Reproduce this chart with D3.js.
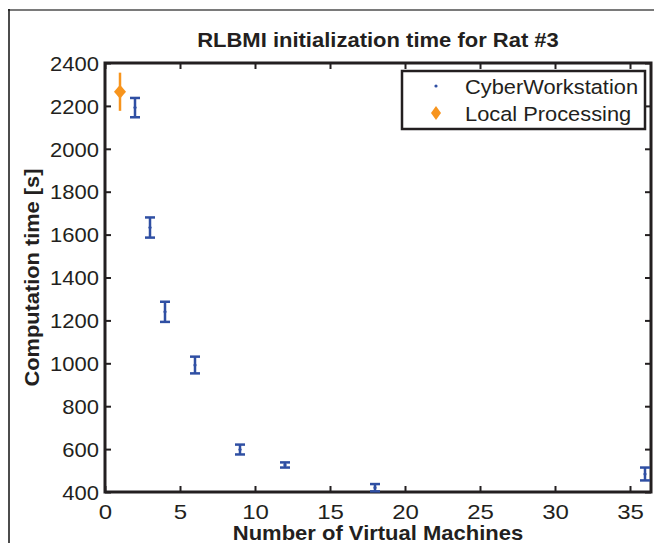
<!DOCTYPE html>
<html lang="en">
<head>
<meta charset="utf-8">
<style type="text/css">
    body { margin: 0; background: #fff; }
    text { font-family: "Liberation Sans", Arial, Helvetica, sans-serif; fill: #231f20; }
</style>
</head>
<body>
<svg width="654" height="543"></svg>
<script src="https://d3js.org/d3.v7.min.js"></script>
<script type="text/javascript">
    // data
    var vmCounts   = [2, 3, 4, 6, 9, 12, 18, 36];
    var cyberMean  = [2192, 1633, 1240, 992, 598, 526, 420, 484];
    var cyberErr   = [45, 47, 47, 39, 23, 12, 17, 30];
    var localX     = [1];
    var localMean  = [2266];
    var localErr   = [89];
    var xTicks = [0, 5, 10, 15, 20, 25, 30, 35];
    var yTicks = [400, 600, 800, 1000, 1200, 1400, 1600, 1800, 2000, 2200, 2400];
    var legendLabels = ["CyberWorkstation", "Local Processing"];

    var blue = "#2f4fa3", orange = "#f7941d", ink = "#231f20";
    var SX = 1.1; // text in the original is a little wide

    var svg = d3.select("svg");
    var pL = 105, pR = 651, pT = 63, pB = 492;

    var x = d3.scaleLinear().domain([0, 36.4]).range([pL, pR]);
    var y = d3.scaleLinear().domain([400, 2400]).range([pB, pT]);

    // outer figure frame
    svg.append("line").attr("x1", 8).attr("x2", 654).attr("y1", 10).attr("y2", 10)
        .attr("stroke", "#7a7a7a").attr("stroke-width", 2);
    svg.append("line").attr("x1", 9).attr("x2", 9).attr("y1", 9).attr("y2", 543)
        .attr("stroke", "#111").attr("stroke-width", 1.5);

    function styleAxis(g) {
        g.select(".domain").remove();
        g.selectAll(".tick line").attr("stroke", ink).attr("stroke-width", 2);
    }

    // bottom axis
    var gx = svg.append("g").attr("transform", "translate(0," + pB + ")")
        .call(d3.axisBottom(x).tickValues(xTicks).tickSizeInner(-6).tickSizeOuter(0).tickFormat(d3.format("d")));
    styleAxis(gx);
    gx.selectAll(".tick text").attr("y", 0).attr("dy", null)
        .attr("transform", "translate(0,27) scale(1.2,1)")
        .style("font-size", "20px").attr("fill", ink);

    // top axis (ticks only)
    var gt = svg.append("g").attr("transform", "translate(0," + pT + ")")
        .call(d3.axisTop(x).tickValues(xTicks).tickSizeInner(-6).tickSizeOuter(0).tickFormat(""));
    styleAxis(gt);

    // left axis
    var gy = svg.append("g").attr("transform", "translate(" + pL + ",0)")
        .call(d3.axisLeft(y).tickValues(yTicks).tickSizeInner(-6).tickSizeOuter(0).tickFormat(d3.format("d")));
    styleAxis(gy);
    gy.selectAll(".tick text").attr("x", 0).attr("dy", "0.36em")
        .attr("transform", "translate(-6,0) scale(1.1,1)")
        .style("font-size", "20px").attr("fill", ink);

    // right axis (ticks only)
    var gr = svg.append("g").attr("transform", "translate(" + pR + ",0)")
        .call(d3.axisRight(y).tickValues(yTicks).tickSizeInner(-6).tickSizeOuter(0).tickFormat(""));
    styleAxis(gr);

    // plot box
    svg.append("rect").attr("x", pL).attr("y", pT)
        .attr("width", pR - pL).attr("height", pB - pT)
        .attr("fill", "none").attr("stroke", ink).attr("stroke-width", 3);

    // cyberworkstation error bars
    var cyber = vmCounts.map(function (d, i) { return {x: d, m: cyberMean[i], e: cyberErr[i]}; });
    var cg = svg.append("g").selectAll("g").data(cyber).enter().append("g")
        .attr("stroke", blue).attr("stroke-width", 2.5);
    cg.append("line")
        .attr("x1", function (d) { return x(d.x); }).attr("x2", function (d) { return x(d.x); })
        .attr("y1", function (d) { return y(d.m + d.e); }).attr("y2", function (d) { return y(d.m - d.e); });
    cg.append("line")
        .attr("x1", function (d) { return x(d.x) - 5; }).attr("x2", function (d) { return x(d.x) + 5; })
        .attr("y1", function (d) { return y(d.m + d.e); }).attr("y2", function (d) { return y(d.m + d.e); });
    cg.append("line")
        .attr("x1", function (d) { return x(d.x) - 5; }).attr("x2", function (d) { return x(d.x) + 5; })
        .attr("y1", function (d) { return y(d.m - d.e); }).attr("y2", function (d) { return y(d.m - d.e); });
    cg.append("circle")
        .attr("cx", function (d) { return x(d.x); }).attr("cy", function (d) { return y(d.m); })
        .attr("r", 1.6).attr("fill", blue).attr("stroke", "none");

    // local processing
    var local = localX.map(function (d, i) { return {x: d, m: localMean[i], e: localErr[i]}; });
    var lg = svg.append("g").selectAll("g").data(local).enter().append("g");
    lg.append("line")
        .attr("x1", function (d) { return x(d.x); }).attr("x2", function (d) { return x(d.x); })
        .attr("y1", function (d) { return y(d.m + d.e); }).attr("y2", function (d) { return y(d.m - d.e); })
        .attr("stroke", orange).attr("stroke-width", 2.5);
    lg.append("path")
        .attr("d", function (d) {
            var cx = x(d.x), cy = y(d.m);
            return "M" + cx + "," + (cy - 7) + "L" + (cx + 6) + "," + cy + "L" + cx + "," + (cy + 7) + "L" + (cx - 6) + "," + cy + "Z";
        })
        .attr("fill", orange);

    // title and axis labels
    svg.append("text").attr("transform", "translate(" + ((pL + pR) / 2) + ",47) scale(" + SX + ",1)")
        .attr("text-anchor", "middle").style("font-size", "20px").style("font-weight", "bold")
        .text("RLBMI initialization time for Rat #3");
    svg.append("text").attr("transform", "translate(" + ((pL + pR) / 2) + ",540) scale(" + SX + ",1)")
        .attr("text-anchor", "middle").style("font-size", "20px").style("font-weight", "bold")
        .text("Number of Virtual Machines");
    svg.append("text").attr("transform", "translate(39," + ((pT + pB) / 2) + ") rotate(-90) scale(1.09,1)")
        .attr("text-anchor", "middle").style("font-size", "20px").style("font-weight", "bold")
        .text("Computation time [s]");

    // legend
    var leg = svg.append("g");
    leg.append("rect").attr("x", 402).attr("y", 71).attr("width", 243).attr("height", 58)
        .attr("fill", "#fff").attr("stroke", ink).attr("stroke-width", 2.5);
    leg.append("circle").attr("cx", 436).attr("cy", 86).attr("r", 1.6).attr("fill", blue);
    leg.append("path").attr("d", "M436,106L441,113L436,120L431,113Z").attr("fill", orange);
    leg.selectAll("text.lab").data(legendLabels).enter().append("text").attr("class", "lab")
        .attr("transform", function (d, i) { return "translate(465," + (94 + i * 27) + ") scale(1.12,1)"; })
        .style("font-size", "19.5px")
        .text(function (d) { return d; });
</script>
</body>
</html>
